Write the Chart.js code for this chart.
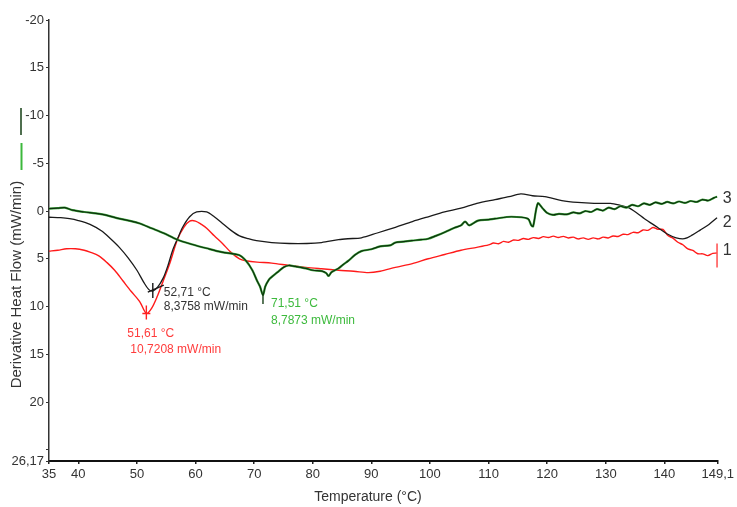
<!DOCTYPE html>
<html>
<head>
<meta charset="utf-8">
<script src="https://cdn.jsdelivr.net/npm/chart.js@4/dist/chart.umd.min.js"></script>
<style>
  html, body { margin: 0; padding: 0; background: #ffffff; }
  #wrap { width: 737px; height: 507px; }
</style>
</head>
<body>
<div id="wrap"><canvas id="dsc" width="737" height="507"></canvas></div>
<script>
// Axis ticks
const xTickValues = [35, 40, 50, 60, 70, 80, 90, 100, 110, 120, 130, 140, 149.1];
const xTickLabels = ["35", "40", "50", "60", "70", "80", "90", "100", "110", "120", "130", "140", "149,1"];
const yTickValues = [-20, -15, -10, -5, 0, 5, 10, 15, 20, 25, 26.17];
const yTickLabels = ["-20", "15", "-10", "-5", "0", "5", "10", "15", "20", "", "26,17"];

// Curve 1 (red)
const redTemp = [35,36.5,38,39.5,41,42,43.5,44.9,46.2,47.6,49,50.5,51.61,52.5,53.5,54.5,55.6,56.9,58,59,60,61,61.9,63.2,64.6,66,67.5,68.6,70.5,73,76,78.8,81.5,84.4,87,89.5,91.5,94.1,97,99.7,102.5,105.3,108,110,110.85,111.7,112.55,113.4,114.25,115.1,115.95,116.8,117.65,118.5,119.35,120.2,121.05,121.9,122.75,123.6,124.45,125.3,126.15,127,127.85,128.7,129.55,130.4,131.25,132.1,132.95,133.8,134.65,135.5,136.35,137.2,138.05,138.9,139.75,140.6,141.45,142.3,143.15,144,144.85,145.7,146.55,147.4,148.25,148.9];
const redFlow = [4.2,4.1,3.95,3.95,4.1,4.3,4.7,5.4,6.2,7.3,8.4,9.5,10.7208,10.2,8.9,7.3,5.5,3.0,1.7,1.05,1.05,1.4,1.8,2.6,3.4,4.3,5.0,5.2,5.35,5.45,5.7,5.9,6.05,6.2,6.3,6.45,6.3,5.9,5.5,5.0,4.55,4.1,3.8,3.55,3.35,3.42,3.18,3.27,3.03,3.07,2.88,2.97,2.78,2.87,2.68,2.77,2.63,2.77,2.65,2.82,2.73,2.92,2.81,2.97,2.81,2.92,2.73,2.82,2.61,2.67,2.43,2.47,2.23,2.27,1.98,2.02,1.73,1.92,1.93,2.57,2.83,3.27,3.53,3.97,4.13,4.47,4.48,4.67,4.43,4.4];
// end-of-run cursor on curve 1
const redEndTemp = [149.0, 149.0];
const redEndFlow = [3.4, 5.9];

// Curve 2 (black)
const blackTemp = [35,37,38.5,40,42,44,45.5,47,48.5,50,51.2,52,52.71,53.5,54.5,55.3,56.1,57,57.8,59,60.2,61.9,63.2,64.6,66,67.5,69,70.4,73,76,79,81.5,84.4,86,88.3,91,94.1,97,99.7,102.5,105.3,108,111.1,113.5,115.5,117.5,119.6,122.5,125.2,128,130.8,132.5,133.7,135.3,136.6,138.8,140.5,142,143.4,144.8,146.1,147.6,149];
const blackFlow = [0.65,0.7,0.8,1.0,1.4,2.1,2.9,3.8,4.9,6.2,7.5,8.2,8.3758,8.0,7.0,5.7,4.1,2.8,1.7,0.6,0.1,0.1,0.6,1.3,2.0,2.6,2.9,3.1,3.3,3.4,3.4,3.3,3.0,2.9,2.8,2.3,1.7,1.1,0.6,0.1,-0.3,-0.8,-1.2,-1.5,-1.8,-1.6,-1.5,-1.1,-0.9,-0.8,-0.8,-0.6,-0.4,0.2,0.8,1.7,2.4,2.8,2.9,2.5,2.0,1.4,0.7];

// Curve 3 (green)
const greenTemp = [35,36.5,37.7,39,41,43,44.9,47,49,50.5,52.5,54.5,56.9,59.5,61.9,64.5,67.4,68.6,69.7,70.5,71,71.51,71.9,72.5,73,74,75,75.9,77,78.8,80,81.6,82.3,82.7,83.2,84.4,85.2,86.1,87.2,88.3,90,91.5,93.2,94.1,95.5,96.9,98.5,99.7,101,102.6,104,105.3,106,106.7,108.2,110,111.1,113.9,116.7,117.3,117.6,118.4,119.2,120,121,122,123.3,124.5,125.5,126.5,127.5,128.5,129.5,130.5,131.5,132.5,133.5,134.5,135.5,136.5,137.5,138.5,139.5,140.5,141.5,142.5,143.5,144.5,145.5,146.5,147.5,148.5,149];
const greenFlow = [-0.25,-0.3,-0.35,-0.1,0.1,0.25,0.45,0.8,1.05,1.3,1.8,2.3,3.0,3.5,3.9,4.3,4.6,5.2,6.2,7.3,7.9,8.7873,7.9,7.2,6.9,6.4,5.9,5.7,5.8,6.0,6.2,6.3,6.5,6.8,6.4,6.0,5.6,5.2,4.6,4.2,4.0,3.7,3.6,3.3,3.2,3.1,3.0,2.9,2.6,2.2,1.8,1.5,1.1,1.5,1.0,0.9,0.8,0.6,0.8,1.5,1.6,-0.8,-0.3,0.2,0.4,0.3,0.35,0.15,0.25,0.0,0.1,-0.2,-0.05,-0.35,-0.2,-0.5,-0.35,-0.65,-0.5,-0.8,-0.65,-0.9,-0.75,-0.95,-0.8,-1.0,-0.85,-1.05,-0.95,-1.2,-1.1,-1.4,-1.5];

// Peak readouts: curve 1, curve 2, curve 3
const peakTemp = [51.61, 52.71, 71.51];
const peakFlow = [10.7208, 8.3758, 8.7873];
const curveNames = ["1", "2", "3"];

const FONT = '"Liberation Sans", Arial, sans-serif';
const TEXT = '#333333';

function pts(xs, ys) { return xs.map((x, i) => ({ x: x, y: ys[i] })); }
function comma(v) { return String(v).replace('.', ','); }

const decor = {
  id: 'decor',
  afterDatasetsDraw(chart) {
    const ctx = chart.ctx, xs = chart.scales.x, ys = chart.scales.y, ca = chart.chartArea;
    ctx.save();

    // peak cursors and readouts
    const colors = ['#ff2020', '#1a1a1a', '#163f16'];
    const txtColors = ['#ff3b3b', '#333333', '#3dba3d'];
    const px = peakTemp.map(t => xs.getPixelForValue(t));
    const py = peakFlow.map(f => ys.getPixelForValue(f));
    ctx.lineWidth = 1.4;
    // red cross
    ctx.strokeStyle = colors[0];
    ctx.beginPath();
    ctx.moveTo(px[0], py[0] - 8); ctx.lineTo(px[0], py[0] + 6);
    ctx.moveTo(px[0] - 4, py[0]); ctx.lineTo(px[0] + 4, py[0]);
    ctx.stroke();
    // black cursor
    ctx.strokeStyle = colors[1];
    ctx.beginPath();
    ctx.moveTo(px[1], py[1] - 8); ctx.lineTo(px[1], py[1] + 7);
    ctx.moveTo(px[1] - 5, py[1] + 1); ctx.lineTo(px[1] + 11, py[1] - 6);
    ctx.stroke();
    // green cursor
    ctx.strokeStyle = colors[2];
    ctx.beginPath();
    ctx.moveTo(px[2], py[2]); ctx.lineTo(px[2], py[2] + 9);
    ctx.stroke();

    ctx.font = '12px ' + FONT;
    ctx.textBaseline = 'middle';
    ctx.textAlign = 'left';
    const offs = [[-19, 20, -16, 36], [11, 2, 11, 15.5], [8, 9, 8, 26]];
    for (let i = 0; i < 3; i++) {
      ctx.fillStyle = txtColors[i];
      ctx.fillText(comma(peakTemp[i]) + ' °C', px[i] + offs[i][0], py[i] + offs[i][1]);
      ctx.fillText(comma(peakFlow[i]) + ' mW/min', px[i] + offs[i][2], py[i] + offs[i][3]);
    }

    // curve numbers at the right end
    const ends = [redFlow[redFlow.length - 1], blackFlow[blackFlow.length - 1], greenFlow[greenFlow.length - 1]];
    const nudge = [-2, 4.5, 1.5];
    ctx.font = '16px ' + FONT;
    ctx.fillStyle = TEXT;
    for (let i = 0; i < 3; i++) {
      ctx.fillText(curveNames[i], ca.right + 5, ys.getPixelForValue(ends[i]) + nudge[i]);
    }

    // axis titles
    ctx.textAlign = 'center';
    ctx.font = '14px ' + FONT;
    ctx.fillText('Temperature (°C)', ca.left + ca.width * 0.477, 497);
    ctx.save();
    ctx.translate(17, ca.top + ca.height * 0.6);
    ctx.rotate(-Math.PI / 2);
    ctx.font = '15px ' + FONT;
    ctx.fillText('Derivative Heat Flow (mW/min)', 0, 0);
    ctx.restore();

    // series key marks beside the y axis
    ctx.lineWidth = 2;
    ctx.strokeStyle = '#4f6f4f';
    ctx.beginPath(); ctx.moveTo(21, 108); ctx.lineTo(21, 135); ctx.stroke();
    ctx.strokeStyle = '#3cb83c';
    ctx.beginPath(); ctx.moveTo(21.5, 143); ctx.lineTo(21.5, 170); ctx.stroke();

    ctx.restore();
  }
};

new Chart(document.getElementById('dsc'), {
  type: 'line',
  data: {
    datasets: [
      // explicit draw order: higher "order" is painted first
      { data: pts(redTemp, redFlow), borderColor: '#ff1a1a', borderWidth: 1.4, pointRadius: 0, tension: 0.3, fill: false, order: 3 },
      { data: pts(redEndTemp, redEndFlow), borderColor: '#ff1a1a', borderWidth: 1.4, pointRadius: 0, tension: 0, fill: false, order: 3 },
      { data: pts(blackTemp, blackFlow), borderColor: '#1a1a1a', borderWidth: 1.3, pointRadius: 0, tension: 0.3, fill: false, order: 2 },
      { data: pts(greenTemp, greenFlow), borderColor: '#3ea83e', borderWidth: 2.2, pointRadius: 0, tension: 0.3, fill: false, order: 1 },
      { data: pts(greenTemp, greenFlow), borderColor: '#0d300d', borderWidth: 1.2, pointRadius: 0, tension: 0.3, fill: false, order: 0 }
    ]
  },
  options: {
    responsive: false,
    animation: false,
    devicePixelRatio: 1,
    layout: { padding: { left: 0, right: 16, top: 20, bottom: 0 } },
    plugins: { legend: { display: false }, tooltip: { enabled: false } },
    scales: {
      x: {
        type: 'linear', min: 35, max: 149.1,
        afterBuildTicks: s => { s.ticks = xTickValues.map(v => ({ value: v })); },
        afterFit: s => { s.height = 46; },
        ticks: {
          autoSkip: false, maxRotation: 0, padding: 3,
          font: { family: FONT, size: 13 }, color: TEXT,
          callback: (v, i) => xTickLabels[i]
        },
        grid: { display: true, drawOnChartArea: false, drawTicks: true, tickLength: 3, color: '#222', lineWidth: 1.5 },
        border: { display: true, color: '#111', width: 2 },
        title: { display: false }
      },
      y: {
        type: 'linear', reverse: true, min: -20, max: 26.17,
        afterBuildTicks: s => { s.ticks = yTickValues.map(v => ({ value: v })); },
        afterFit: s => { s.width = 49; },
        ticks: {
          autoSkip: false, padding: 2,
          font: { family: FONT, size: 13 }, color: TEXT,
          callback: (v, i) => yTickLabels[i]
        },
        grid: { display: true, drawOnChartArea: false, drawTicks: true, tickLength: 3, color: '#333', lineWidth: 1 },
        border: { display: true, color: '#333', width: 1.5 },
        title: { display: false }
      }
    }
  },
  plugins: [decor]
});
</script>
</body>
</html>
